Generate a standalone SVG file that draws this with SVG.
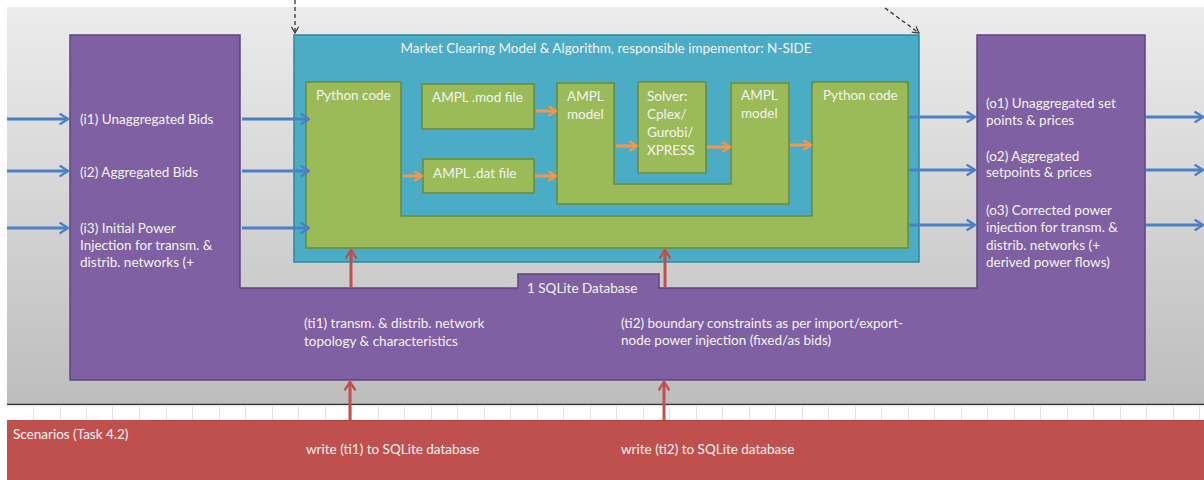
<svg xmlns="http://www.w3.org/2000/svg" width="1204" height="480" viewBox="0 0 1204 480">
<defs>
<linearGradient id="bg" x1="0" y1="0" x2="0" y2="1">
<stop offset="0" stop-color="#ececec"/>
<stop offset="1" stop-color="#bdbdbd"/>
</linearGradient>
<marker id="mb" viewBox="0 0 10 10" refX="9" refY="5" markerWidth="12" markerHeight="12" markerUnits="userSpaceOnUse" orient="auto">
<polyline points="2,0.5 9,5 2,9.5" fill="none" stroke="#4a80c4" stroke-width="2"/>
</marker>
<marker id="mo" viewBox="0 0 10 10" refX="9" refY="5" markerWidth="11" markerHeight="11" markerUnits="userSpaceOnUse" orient="auto">
<polyline points="2,0.5 9,5 2,9.5" fill="none" stroke="#f79646" stroke-width="2"/>
</marker>
<marker id="mr" viewBox="0 0 10 10" refX="9" refY="5" markerWidth="12" markerHeight="12" markerUnits="userSpaceOnUse" orient="auto">
<polyline points="2,0.5 9,5 2,9.5" fill="none" stroke="#c0504d" stroke-width="2"/>
</marker>
<marker id="mk" viewBox="0 0 10 10" refX="9" refY="5" markerWidth="9" markerHeight="9" markerUnits="userSpaceOnUse" orient="auto">
<polyline points="2,1 9,5 2,9" fill="none" stroke="#333" stroke-width="1.3"/>
</marker>
</defs>
<style>
text{font-family:Lato,"Open Sans","Liberation Sans",sans-serif;font-size:13.5px;fill:#f4f4f4}
.purple{fill:#7f60a2;stroke:#5e4680;stroke-width:1.5}
.teal{fill:#4bacc6;stroke:#31859c;stroke-width:1.5}
.green{fill:#9bbb59;stroke:#6e8a36;stroke-width:1.5}
.blue{stroke:#4a80c4;stroke-width:3;fill:none;marker-end:url(#mb)}
.orange{stroke:#f79646;stroke-width:3;fill:none;marker-end:url(#mo)}
.red{stroke:#c0504d;stroke-width:3;fill:none;marker-end:url(#mr)}
.dash{stroke:#333;stroke-width:1.3;stroke-dasharray:4,3;fill:none;marker-end:url(#mk)}
.tick{stroke:#e2e2e2;stroke-width:1}
</style>
<rect x="0" y="0" width="1204" height="480" fill="#ffffff"/>
<rect x="7" y="7" width="1197" height="398" fill="url(#bg)"/>
<line x1="7" y1="404.5" x2="1204" y2="404.5" stroke="#333" stroke-width="1.5"/>
<rect x="7" y="405.5" width="1197" height="14.5" fill="#ffffff"/>
<path class="tick" d="M33.5,406V420M60.5,406V420M86.5,406V420M112.5,406V420M139.5,406V420M166.5,406V420M192.5,406V420M219.5,406V420M245.5,406V420M272.5,406V420M298.5,406V420M325.5,406V420M351.5,406V420M378.5,406V420M404.5,406V420M431.5,406V420M457.5,406V420M484.5,406V420M510.5,406V420M537.5,406V420M563.5,406V420M590.5,406V420M616.5,406V420M643.5,406V420M669.5,406V420M696.5,406V420M722.5,406V420M749.5,406V420M775.5,406V420M802.5,406V420M828.5,406V420M855.5,406V420M881.5,406V420M908.5,406V420M934.5,406V420M961.5,406V420M987.5,406V420M1014.5,406V420M1040.5,406V420M1067.5,406V420M1093.5,406V420M1120.5,406V420M1146.5,406V420M1173.5,406V420M1199.5,406V420"/>

<g id="scenarios">
<rect x="7" y="420" width="1197" height="60" fill="#c0504d"/>
<line x1="148" y1="420.5" x2="1204" y2="420.5" stroke="#a8403d" stroke-width="1"/>
<text x="13" y="439">Scenarios (Task 4.2)</text>
<text x="306" y="454">write (ti1) to SQLite database</text>
<text x="621" y="454">write (ti2) to SQLite database</text>
</g>

<g id="database">
<path class="purple" d="M70,35 H240 V288 H518 V274 H659 V288 H977 V35 H1145 V380 H70 Z"/>
<text x="80" y="124">(i1) Unaggregated Bids</text>
<text x="80" y="177">(i2) Aggregated Bids</text>
<text x="80" y="233">(i3) Initial Power</text>
<text x="80" y="250">Injection for transm. &amp;</text>
<text x="80" y="267">distrib. networks (+</text>
<text x="986" y="108">(o1) Unaggregated set</text>
<text x="986" y="125">points &amp; prices</text>
<text x="986" y="161">(o2) Aggregated</text>
<text x="986" y="177">setpoints &amp; prices</text>
<text x="986" y="215">(o3) Corrected power</text>
<text x="986" y="232">injection for transm. &amp;</text>
<text x="986" y="250">distrib. networks (+</text>
<text x="986" y="267">derived power flows)</text>
<text x="527" y="293">1 SQLite Database</text>
<text x="304" y="328">(ti1) transm. &amp; distrib. network</text>
<text x="304" y="346">topology &amp; characteristics</text>
<text x="621" y="328">(ti2) boundary constraints as per import/export-</text>
<text x="621" y="345">node power injection (fixed/as bids)</text>
</g>

<g id="market">
<rect class="teal" x="294" y="35" width="625" height="227"/>
<text x="606" y="53" text-anchor="middle">Market Clearing Model &amp; Algorithm, responsible impementor: N-SIDE</text>
</g>

<g id="python">
<path class="green" d="M306,82 H401 V216 H812 V82 H908 V248 H306 Z"/>
<text x="316" y="100">Python code</text>
<text x="823" y="100">Python code</text>
</g>

<g id="ampl-model">
<path class="green" d="M557,83 H614 V184 H731 V83 H789 V204 H557 Z"/>
<text x="567" y="101">AMPL</text>
<text x="567" y="119">model</text>
<text x="741" y="100">AMPL</text>
<text x="741" y="118">model</text>
</g>

<g id="mod-file">
<rect class="green" x="422" y="84" width="112" height="45"/>
<text x="432" y="102">AMPL .mod file</text>
</g>

<g id="dat-file">
<rect class="green" x="423" y="159" width="111" height="34"/>
<text x="433" y="178">AMPL .dat file</text>
</g>

<g id="solver">
<rect class="green" x="638" y="82" width="68" height="91"/>
<text x="647" y="101">Solver:</text>
<text x="647" y="119">Cplex/</text>
<text x="647" y="137">Gurobi/</text>
<text x="647" y="155">XPRESS</text>
</g>

<g id="connectors">
<line class="blue" x1="7" y1="119" x2="68" y2="119"/>
<line class="blue" x1="7" y1="171" x2="68" y2="171"/>
<line class="blue" x1="7" y1="228" x2="68" y2="228"/>
<line class="blue" x1="242" y1="119" x2="309" y2="119"/>
<line class="blue" x1="242" y1="171" x2="309" y2="171"/>
<line class="blue" x1="242" y1="228" x2="309" y2="228"/>
<line class="blue" x1="909" y1="117" x2="975" y2="117"/>
<line class="blue" x1="909" y1="170" x2="975" y2="170"/>
<line class="blue" x1="909" y1="225" x2="975" y2="225"/>
<line class="blue" x1="1146" y1="117" x2="1203" y2="117"/>
<line class="blue" x1="1146" y1="170" x2="1203" y2="170"/>
<line class="blue" x1="1146" y1="225" x2="1203" y2="225"/>
<line class="orange" x1="536" y1="111" x2="556" y2="111"/>
<line class="orange" x1="535" y1="176" x2="556" y2="176"/>
<line class="orange" x1="403" y1="176" x2="422" y2="176"/>
<line class="orange" x1="616" y1="146" x2="637" y2="146"/>
<line class="orange" x1="707" y1="147" x2="730" y2="147"/>
<line class="orange" x1="790" y1="145" x2="811" y2="145"/>
<line class="red" x1="351" y1="288" x2="351" y2="250"/>
<line class="red" x1="665" y1="288" x2="665" y2="250"/>
<line class="red" x1="350" y1="420" x2="350" y2="382"/>
<line class="red" x1="664" y1="420" x2="664" y2="382"/>
<line class="dash" x1="295" y1="0" x2="295" y2="33"/>
<line class="dash" x1="885" y1="8" x2="919" y2="33"/>
</g>
</svg>
